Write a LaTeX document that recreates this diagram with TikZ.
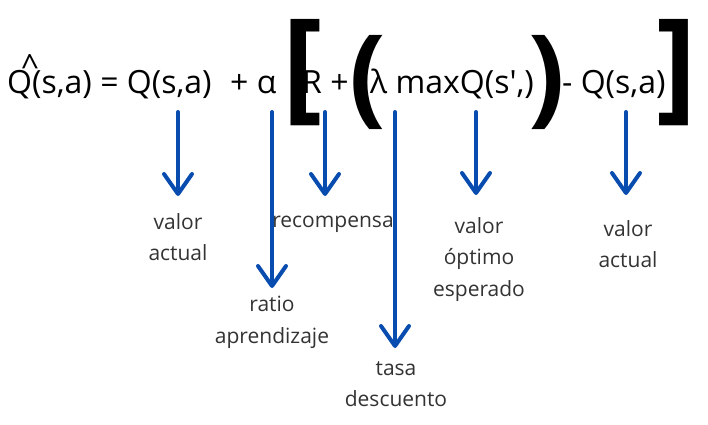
\documentclass[tikz,border=0pt]{standalone}
\usepackage{fontspec}
\setmainfont{Open Sans}
\usetikzlibrary{arrows.meta}
\definecolor{arrowblue}{RGB}{8,76,176}
\definecolor{glossgray}{RGB}{51,51,51}
\tikzstyle{term}=[inner sep=0pt, anchor=base west, font=\fontsize{32}{32}\selectfont]
\tikzstyle{fence}=[inner sep=0pt, font=\fontsize{122}{122}\selectfont\bfseries]
\tikzstyle{bigparen}=[inner sep=0pt, font=\fontsize{108}{108}\selectfont\bfseries]
\tikzstyle{gloss}=[inner sep=0pt, anchor=north, align=center, text=glossgray, font=\fontsize{21}{31.5}\selectfont]
\tikzstyle{pointer}=[draw=arrowblue, line width=4pt, line cap=round,
  -{Straight Barb[length=20pt,width=28pt,round]}]
\newcommand{\term}{\node[term]}
\newcommand{\gloss}{\node[gloss]}

\begin{document}
\begin{tikzpicture}[x=1pt, y=-1pt]
\useasboundingbox (0,0) rectangle (708,424);
% formula
\term (qnew) at (7,93) {Q(s,a) = Q(s,a)};
\node[term, anchor=base] (hat) at (30,77) {\^{}};
\term (alpha) at (230,93) {+ α};
\node[fence] (lbrack) at (303,73) {[};
\term (rew) at (302,93) {R +};
\node[bigparen] (lpar) at (368,82) {(};
\term (maxq) at (370,93) {λ maxQ(s\textquotesingle,)};
\node[bigparen] (rpar) at (547,82) {)};
\term (qold) at (562,93) {- Q(s,a)};
\node[fence] (rbrack) at (677,73) {]};
% labels
\gloss (cur) at (178,213) {valor\\actual};
\gloss (rate) at (272,296) {ratio\\aprendizaje};
\gloss (reward) at (333,216) {recompensa};
\gloss (disc) at (396,361) {tasa\\descuento};
\gloss (best) at (479,217) {valor\\óptimo\\esperado};
\gloss (cur2) at (628,220) {valor\\actual};
\coordinate (t1) at (178,112);
\coordinate (t2) at (272,112);
\coordinate (t3) at (325,112);
\coordinate (t4) at (395,112);
\coordinate (t5) at (476,112);
\coordinate (t6) at (626,112);
\draw[pointer, shorten >=17pt] (t1) -- (t1 |- cur.north);
\draw[pointer, shorten >=8pt] (t2) -- (t2 |- rate.north);
\draw[pointer, shorten >=20pt] (t3) -- (t3 |- reward.north);
\draw[pointer, shorten >=13pt] (t4) -- (t4 |- disc.north);
\draw[pointer, shorten >=22pt] (t5) -- (t5 |- best.north);
\draw[pointer, shorten >=25pt] (t6) -- (t6 |- cur2.north);
\end{tikzpicture}
\end{document}
